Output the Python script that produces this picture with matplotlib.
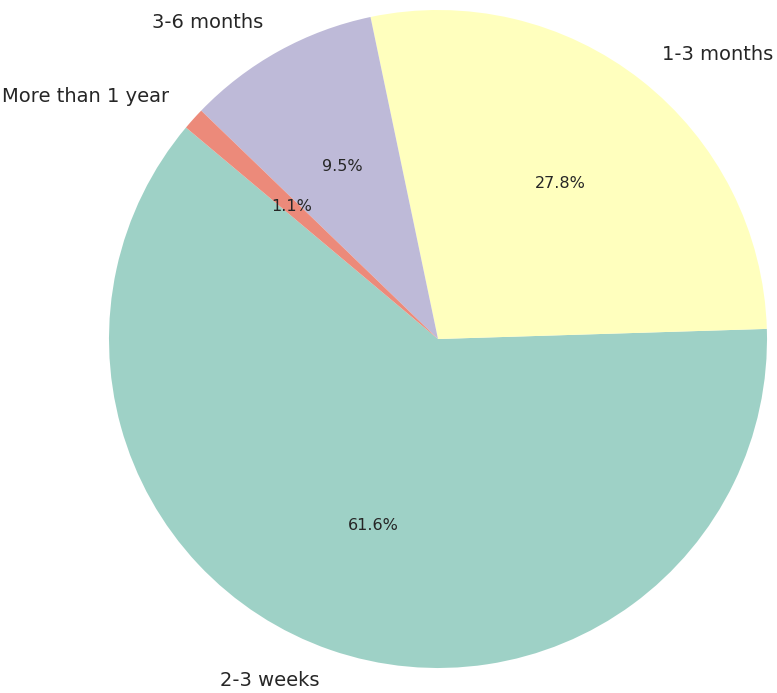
import matplotlib
matplotlib.use("Agg")
import matplotlib.pyplot as plt

# durations and their shares
labels = ["2-3 weeks", "1-3 months", "3-6 months", "More than 1 year"]
shares = [61.6, 27.8, 9.5, 1.1]
colors = ["#9ed1c6", "#ffffbe", "#bebad8", "#ec8a7a"]

fig = plt.figure(figsize=(7.77, 6.93), dpi=100)
ax = fig.add_axes([0, 0, 1, 1])

wedges, texts, autotexts = ax.pie(
    shares,
    labels=labels,
    colors=colors,
    autopct="%1.1f%%",
    startangle=140,
    textprops={"color": "#262626"},
)
for t in texts:
    t.set_fontsize(14)
for t in autotexts:
    t.set_fontsize(11.5)

# place the pie where it sits in the picture (centre 438,339 px, radius 329 px)
r = 329.0
ax.set_xlim(-438 / r, (777 - 438) / r)
ax.set_ylim(-(693 - 339) / r, 339 / r)
ax.set_aspect("auto")
ax.axis("off")

fig.savefig("out.png", dpi=100)
